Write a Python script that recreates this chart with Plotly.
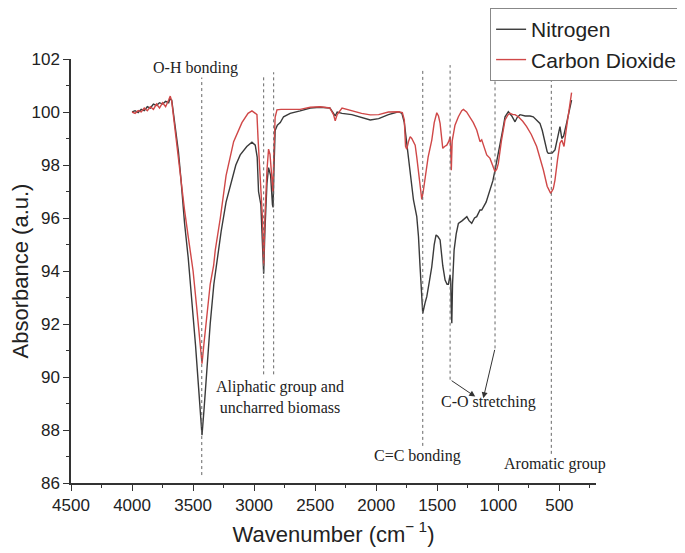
import plotly.graph_objects as go

# Nitrogen (black) spectrum
n2_wn = [4000, 3975, 3950, 3925, 3900, 3875, 3850, 3825, 3800, 3775, 3750, 3725, 3700, 3690, 3675,
         3660, 3640, 3620, 3600, 3570, 3540, 3510, 3480, 3455, 3427, 3410, 3390, 3360, 3330, 3300,
         3270, 3230, 3195, 3150, 3114, 3060, 3018, 2991, 2975, 2964, 2945, 2930, 2922, 2912, 2895,
         2882, 2865, 2850, 2845, 2838, 2828, 2810, 2786, 2759, 2705, 2623, 2540, 2460, 2380, 2350,
         2336, 2320, 2280, 2200, 2120, 2049, 1980, 1900, 1818, 1790, 1770, 1750, 1736, 1715, 1695,
         1668, 1654, 1641, 1630, 1619, 1600, 1586, 1565, 1545, 1525, 1510, 1495, 1477, 1455, 1436,
         1420, 1409, 1395, 1390, 1385, 1381, 1375, 1362, 1345, 1327, 1295, 1258, 1240, 1218, 1195,
         1177, 1150, 1136, 1100, 1068, 1045, 1027, 1005, 986, 965, 945, 918, 890, 863, 845,
         822, 780, 740, 714, 690, 659, 640, 618, 600, 591, 560, 536, 515, 495, 480,
         465, 440, 420, 400]
n2_val = [100.0, 100.05, 99.98, 100.1, 100.05, 100.2, 100.15, 100.3, 100.25, 100.35, 100.3, 100.4, 100.35, 100.5, 100.45,
          99.9, 99.2, 98.5, 97.5, 95.8, 94.5, 93.0, 91.2, 89.6, 87.8, 88.8, 90.2, 92.0, 93.5, 94.5,
          95.5, 96.6, 97.25, 98.0, 98.38, 98.7, 98.86, 98.75, 98.3, 97.0, 96.5, 95.0, 93.9, 95.5, 97.3,
          97.9, 97.6, 96.5, 96.4, 97.8, 99.3, 99.5, 99.6, 99.82, 99.95, 100.04, 100.15, 100.18, 100.15, 99.95,
          99.85, 100.0, 99.95, 99.9, 99.78, 99.7, 99.75, 99.9, 100.01, 99.95, 99.6, 98.8, 98.25, 97.5, 96.68,
          96.05, 95.3, 94.16, 93.0, 92.4, 92.8, 93.03, 93.6, 94.16, 95.0, 95.36, 95.3, 95.17, 94.2, 93.66,
          93.5, 93.5, 93.85, 93.6, 92.5, 92.03, 93.5, 94.8, 95.4, 95.8, 95.9, 96.05, 95.9, 95.8, 96.0,
          96.05, 96.3, 96.3, 96.6, 97.06, 97.4, 97.81, 98.3, 98.82, 99.3, 99.82, 100.01, 99.85, 99.63, 99.8,
          99.9, 99.85, 99.85, 99.82, 99.7, 99.57, 99.3, 98.82, 98.5, 98.44, 98.45, 98.57, 99.0, 99.45, 99.0,
          99.1, 99.6, 100.0, 100.45]

# Carbon dioxide (red) spectrum
co2_wn = [4000, 3975, 3950, 3925, 3900, 3875, 3850, 3825, 3800, 3775, 3750, 3725, 3700, 3687, 3675,
          3660, 3640, 3620, 3600, 3570, 3540, 3500, 3470, 3445, 3427, 3410, 3390, 3360, 3332, 3318,
          3277, 3230, 3168, 3100, 3050, 3018, 2990, 2977, 2968, 2958, 2945, 2932, 2922, 2912, 2895,
          2882, 2870, 2855, 2846, 2838, 2828, 2813, 2780, 2700, 2623, 2540, 2460, 2380, 2350, 2336,
          2320, 2280, 2200, 2120, 2049, 1980, 1900, 1818, 1786, 1770, 1760, 1750, 1735, 1722, 1709,
          1695, 1681, 1668, 1654, 1640, 1627, 1615, 1600, 1575, 1545, 1525, 1504, 1490, 1477, 1465,
          1455, 1440, 1422, 1405, 1395, 1390, 1385, 1382, 1378, 1355, 1327, 1300, 1286, 1260, 1232,
          1205, 1177, 1160, 1150, 1136, 1120, 1095, 1068, 1045, 1027, 1012, 1000, 975, 945, 920,
          904, 880, 863, 836, 800, 768, 730, 686, 660, 631, 600, 571, 550, 536, 515,
          495, 480, 462, 445, 427, 410, 400]
co2_val = [100.0, 99.95, 100.05, 100.0, 100.15, 100.05, 100.2, 100.1, 100.3, 100.15, 100.35, 100.2, 100.45, 100.6, 100.4,
           99.8, 99.1, 98.4, 97.6, 96.3, 95.3, 94.0, 92.6, 91.3, 90.5, 91.3, 92.3, 93.5, 94.2, 94.8,
           96.0, 97.6, 98.88, 99.6, 99.95, 100.04, 99.95, 99.9, 99.0, 98.0, 97.2, 96.0, 94.2, 96.0, 97.8,
           98.6, 98.4, 97.3, 97.0, 98.5, 99.8, 100.08, 100.1, 100.1, 100.1, 100.18, 100.2, 100.15, 99.9, 99.67,
           99.9, 100.15, 100.05, 99.95, 99.89, 99.9, 100.0, 100.01, 99.98, 99.7, 98.7, 98.6, 98.9, 99.07, 99.0,
           98.9, 98.75, 98.3, 97.69, 97.0, 96.7, 97.0, 97.56, 98.3, 98.94, 99.6, 99.97, 99.85, 99.57, 99.0,
           98.63, 98.7, 98.75, 98.9, 99.07, 98.6, 97.8, 98.3, 98.9, 99.5, 99.82, 100.05, 100.1, 100.0, 99.82,
           99.6, 99.32, 99.0, 98.88, 98.95, 98.7, 98.38, 98.25, 97.95, 97.75, 97.85, 98.06, 98.9, 99.7, 99.9,
           99.95, 99.9, 99.9, 99.82, 99.65, 99.45, 99.15, 98.7, 98.3, 97.81, 97.2, 96.93, 97.1, 97.43, 98.2,
           98.82, 98.94, 98.7, 99.3, 99.82, 100.3, 100.73]

series_names = ["Nitrogen", "Carbon Dioxide"]

# Band markers: (wavenumber, top, bottom)
band_lines = [(3429, 101.3, 86.3), (2922, 101.4, 90.1), (2840, 101.5, 90.1),
              (1619, 101.65, 87.4), (1395, 101.77, 89.9), (1027, 101.52, 91.08),
              (566, 101.46, 87.1)]
band_labels = [("O-H bonding", 3482, 101.65),
               ("Aliphatic group and<br>uncharred biomass", 2786, 89.26),
               ("C=C bonding", 1665, 87.03),
               ("C-O stretching", 1082, 89.05),
               ("Aromatic group", 539, 86.72)]
arrows = [((1395, 89.9), (1189, 89.26)), ((1027, 91.08), (1123, 89.2))]

fig = go.Figure()
fig.add_trace(go.Scatter(x=n2_wn, y=n2_val, mode="lines", name=series_names[0],
                         line=dict(color="#3a3a3a", width=1.4)))
fig.add_trace(go.Scatter(x=co2_wn, y=co2_val, mode="lines", name=series_names[1],
                         line=dict(color="#d04848", width=1.4)))

for wn, top, bot in band_lines:
    fig.add_shape(type="line", xref="x", yref="y", x0=wn, x1=wn, y0=bot, y1=top,
                  line=dict(color="#666666", width=1, dash="dot"))

for text, wn, val in band_labels:
    fig.add_annotation(x=wn, y=val, xref="x", yref="y", text=text, showarrow=False,
                       font=dict(family="Liberation Serif", size=16, color="#222222"))

for (tx, ty), (hx, hy) in arrows:
    fig.add_annotation(x=hx, y=hy, ax=tx, ay=ty, xref="x", yref="y", axref="x", ayref="y",
                       text="", showarrow=True, arrowhead=2, arrowsize=1.2, arrowwidth=1,
                       arrowcolor="#333333")

fig.update_layout(
    width=677, height=545,
    margin=dict(l=63, r=89, t=51, b=70, autoexpand=False),
    plot_bgcolor="white", paper_bgcolor="white",
    font=dict(family="Liberation Sans", color="#222222"),
    legend=dict(x=1.164, y=1.12, xanchor="right", yanchor="top",
                bgcolor="white", bordercolor="#888888", borderwidth=1,
                font=dict(size=21, family="Liberation Sans", color="#222222"),
                tracegroupgap=0),
    showlegend=True,
)
fig.update_xaxes(range=[4500, 200], tickmode="array",
                 tickvals=[4500, 4000, 3500, 3000, 2500, 2000, 1500, 1000, 500],
                 ticks="outside", ticklen=6, tickcolor="#333333",
                 showline=True, linecolor="#333333", linewidth=1.5,
                 showgrid=False, zeroline=False,
                 tickfont=dict(size=17, color="#222222"),
                 minor=dict(dtick=250, ticks="outside", ticklen=3, tickcolor="#333333"),
                 title=dict(text="Wavenumber (cm<sup>− 1</sup>)", font=dict(size=22, color="#222222"), standoff=12))
fig.update_yaxes(range=[86, 102], dtick=2, tick0=86,
                 ticks="outside", ticklen=6, tickcolor="#333333",
                 showline=True, linecolor="#333333", linewidth=1.5,
                 showgrid=False, zeroline=False,
                 tickfont=dict(size=17, color="#222222"),
                 minor=dict(dtick=1, ticks="outside", ticklen=3, tickcolor="#333333"),
                 title=dict(text="Absorbance (a.u.)", font=dict(size=22, color="#222222"), standoff=4))

fig.write_html("out.html")
